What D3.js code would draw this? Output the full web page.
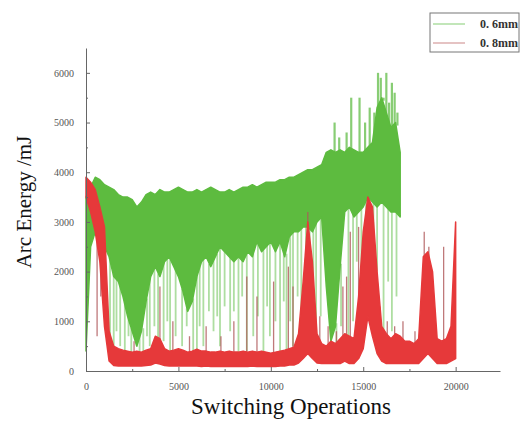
<!DOCTYPE html>
<html>
<head>
<meta charset="utf-8">
<script src="https://cdn.jsdelivr.net/npm/d3@7"></script>
<style>
  body { margin: 0; background: #fff; }
  .axis path, .axis line { stroke: #666; }
  .axis text { font-family: "Liberation Serif", serif; font-size: 10px; fill: #555; }
</style>
</head>
<body>
<div id="chart"></div>
<script>
// sampled every 250 operations: upper / lower edge of the dense band
const step = 250;
const greenHi = [3500, 3700, 3900, 3850, 3750, 3700, 3650, 3550, 3500, 3500, 3450, 3300, 3400, 3550, 3600, 3550,
    3650, 3600, 3600, 3650, 3700, 3650, 3600, 3600, 3650, 3600, 3650, 3700, 3650, 3600, 3600, 3650,
    3600, 3650, 3700, 3700, 3750, 3700, 3750, 3800, 3800, 3800, 3850, 3850, 3900, 3900, 3950, 4000,
    4050, 4050, 4100, 4150, 4400, 4450, 4400, 4450, 4400, 4500, 4450, 4400, 4400, 4500, 4600, 5300,
    5500, 5200, 4900, 5000, 4400];
const greenLo = [400, 2500, 2800, 2700, 2500, 2300, 1900, 1800, 1500, 1100, 800, 500, 800, 1400, 1900, 2100,
    1900, 2200, 2300, 2100, 1900, 1600, 1200, 1400, 1900, 2200, 2300, 2100, 2300, 2500, 2400, 2300,
    2200, 2300, 2200, 2400, 2300, 2600, 2400, 2500, 2600, 2400, 2600, 2300, 2700, 2800, 2800, 2900,
    2900, 2800, 3000, 3100, 1700, 600, 900, 2100, 3200, 3300, 3100, 3200, 3300, 3500, 3400, 3300,
    3400, 3300, 3200, 3200, 3100];
const redHi = [3900, 3800, 3650, 3300, 2900, 800, 500, 450, 420, 400, 380, 400, 380, 420, 450, 700,
    650, 450, 400, 420, 450, 420, 380, 400, 440, 400, 400, 380, 380, 400, 380, 400,
    380, 380, 400, 380, 400, 380, 400, 380, 360, 380, 400, 420, 450, 480, 750, 1800,
    3000, 2200, 750, 550, 500, 600, 550, 650, 750, 700, 650, 1500, 2800, 3500, 3300, 2000,
    900, 750, 650, 750, 700, 600, 600, 550, 650, 2300, 2400, 2000, 650, 600, 650, 900, 3000];
const redLo = [3500, 3200, 2800, 2200, 900, 200, 110, 100, 100, 100, 100, 100, 100, 110, 120, 160,
    140, 110, 100, 100, 100, 100, 100, 100, 100, 90, 100, 90, 90, 90, 90, 90,
    90, 90, 90, 90, 100, 90, 90, 90, 90, 90, 100, 100, 120, 120, 160, 250,
    350, 250, 160, 150, 150, 150, 150, 150, 200, 150, 150, 250, 450, 1100, 700, 350,
    200, 150, 150, 150, 150, 150, 150, 150, 150, 250, 350, 250, 150, 150, 150, 200, 250];

// isolated thin spikes: [operation, value]
const greenSpikes = [[1300, 600], [1500, 300], [1650, 800], [1850, 500], [2100, 400], [2300, 700], [2450, 300],
    [2900, 400], [3100, 300], [3300, 700], [3450, 500], [3700, 900], [3900, 400], [4200, 600], [4400, 1000],
    [4550, 250], [4850, 700], [5200, 500], [5450, 900], [5800, 400], [6000, 300], [6150, 900], [6350, 500],
    [6650, 1200], [6900, 800], [7100, 1100], [7250, 500], [7500, 1300], [7800, 800], [8000, 1200], [8250, 300],
    [8450, 1500], [8700, 400], [9050, 700], [9300, 1100], [9600, 300], [9800, 1300], [9950, 700],
    [10250, 1000], [10500, 400], [10700, 1400], [10850, 300], [11050, 1000], [11200, 500], [11450, 1500],
    [11650, 1000], [11900, 1300], [12100, 700], [12300, 1600], [12450, 500], [12700, 1100], [13550, 300],
    [13800, 900], [14200, 500], [14450, 1000], [14650, 2200], [14900, 1500], [15150, 1200], [15550, 800],
    [15750, 2000], [16100, 600], [16350, 1800], [16550, 800], [16800, 1500]];
const greenPeaks = [[13450, 5000], [13700, 4700], [14100, 4800], [14350, 5500], [14800, 5500], [15100, 5000],
    [15350, 5300], [15600, 5200], [15800, 6000], [15950, 5900], [16100, 5500], [16250, 6000], [16400, 5400],
    [16550, 5800], [16700, 5600], [16850, 5200]];
const redSpikes = [[600, 700], [800, 1500], [2600, 600], [4000, 1700], [4700, 1000], [5600, 700], [6500, 900],
    [7300, 700], [8000, 1000], [8700, 1900], [9250, 1500], [10150, 1800], [10950, 2100], [11200, 1700],
    [12000, 3200], [12650, 1100], [13100, 900], [13550, 800], [13900, 1700], [14100, 1900], [14300, 2800],
    [14750, 2900], [15550, 3000], [15900, 1300], [16300, 1000], [16700, 900], [17150, 1000], [17800, 800],
    [18300, 2800], [18550, 2500], [18900, 600], [19350, 2500], [19700, 500]];

const seriesNames = ["0. 6mm", "0. 8mm"];
const xTicks = [0, 5000, 10000, 15000, 20000];
const yTicks = [0, 1000, 2000, 3000, 4000, 5000, 6000];

const svgWidth = 524, svgHeight = 421;
const margin = { top: 48, left: 86 },
    width = 414,
    height = 323;

const green = "#5dbb3f", greenLight = "#9ad68a",
    red = "#e6393a", redLight = "#b0585a";

let svg = d3.select("#chart").append("svg")
    .attr("width", svgWidth)
    .attr("height", svgHeight);
let plot = svg.append("g")
    .attr("transform", `translate(${margin.left},${margin.top})`);

let x = d3.scaleLinear().domain([0, 22400]).range([0, width]);
let y = d3.scaleLinear().domain([0, 6500]).range([height, 0]);

function bandData(hi, lo) {
    return hi.map((h, i) => ({ op: i * step, hi: h, lo: lo[i] }));
}
let area = d3.area()
    .x((d) => x(d.op))
    .y0((d) => y(d.lo))
    .y1((d) => y(d.hi));

function drawSpikes(list, band, up, color, w, op) {
    plot.append("g").selectAll("line")
        .data(list)
        .join("line")
        .attr("x1", (d) => x(d[0]))
        .attr("x2", (d) => x(d[0]))
        .attr("y1", (d) => y(d[1]))
        .attr("y2", (d) => {
            let b = band[Math.min(band.length - 1, Math.round(d[0] / step))];
            return y(up ? b.hi : b.lo) + (up ? 3 : -3);
        })
        .attr("stroke", color)
        .attr("stroke-width", w)
        .attr("opacity", op);
}

let gBand = bandData(greenHi, greenLo);
let rBand = bandData(redHi, redLo);

// green series
drawSpikes(greenSpikes, gBand, false, greenLight, 1.8, 0.8);
drawSpikes(greenPeaks, gBand, true, "#7cc866", 2.2, 0.9);
plot.append("path")
    .datum(gBand)
    .attr("d", area)
    .attr("fill", green)
    .attr("stroke", green)
    .attr("stroke-width", 1.5)
    .attr("stroke-linejoin", "round");

// red series on top
drawSpikes(redSpikes, rBand, false, redLight, 1.3, 0.8);
plot.append("path")
    .datum(rBand)
    .attr("d", area)
    .attr("fill", red)
    .attr("stroke", red)
    .attr("stroke-width", 1.5)
    .attr("stroke-linejoin", "round");

// axes with inward ticks
svg.append("g")
    .attr("class", "axis")
    .attr("transform", `translate(${margin.left},${margin.top + height})`)
    .call(d3.axisBottom(x).tickValues(xTicks).tickFormat(d3.format("d"))
        .tickSize(-4).tickPadding(12).tickSizeOuter(0));
svg.append("g")
    .attr("class", "axis")
    .attr("transform", `translate(${margin.left},${margin.top + height})`)
    .call(d3.axisBottom(x).tickValues(d3.range(2500, 22400, 5000)).tickSize(-2).tickFormat(""))
    .select(".domain").remove();
svg.append("g")
    .attr("class", "axis")
    .attr("transform", `translate(${margin.left},${margin.top})`)
    .call(d3.axisLeft(y).tickValues(yTicks).tickFormat(d3.format("d"))
        .tickSize(-4).tickPadding(12).tickSizeOuter(0));
svg.append("g")
    .attr("class", "axis")
    .attr("transform", `translate(${margin.left},${margin.top})`)
    .call(d3.axisLeft(y).tickValues(d3.range(500, 6500, 1000)).tickSize(-2).tickFormat(""))
    .select(".domain").remove();

// axis labels
svg.append("text")
    .attr("transform", `translate(31, ${margin.top + 154}) rotate(-90)`)
    .attr("text-anchor", "middle")
    .attr("font-family", "Liberation Serif, serif")
    .attr("font-size", 21)
    .attr("fill", "#111")
    .text("Arc Energy /mJ");
svg.append("text")
    .attr("x", 291)
    .attr("y", 414)
    .attr("text-anchor", "middle")
    .attr("font-family", "Liberation Serif, serif")
    .attr("font-size", 23)
    .attr("fill", "#111")
    .text("Switching Operations");

// legend
let legend = svg.append("g").attr("transform", "translate(430,13)");
legend.append("rect")
    .attr("width", 89).attr("height", 39)
    .attr("fill", "#fff").attr("stroke", "#777").attr("stroke-width", 1);
[greenLight, "#d49a9a"].forEach((c, i) => {
    legend.append("line")
        .attr("x1", 3).attr("x2", 35)
        .attr("y1", 11 + i * 19).attr("y2", 11 + i * 19)
        .attr("stroke", c).attr("stroke-width", 1.2);
    legend.append("text")
        .attr("x", 88).attr("y", 15 + i * 19)
        .attr("text-anchor", "end")
        .attr("font-family", "Liberation Serif, serif")
        .attr("font-size", 12)
        .attr("font-weight", "bold")
        .attr("fill", "#333")
        .text(seriesNames[i]);
});
</script>
</body>
</html>
